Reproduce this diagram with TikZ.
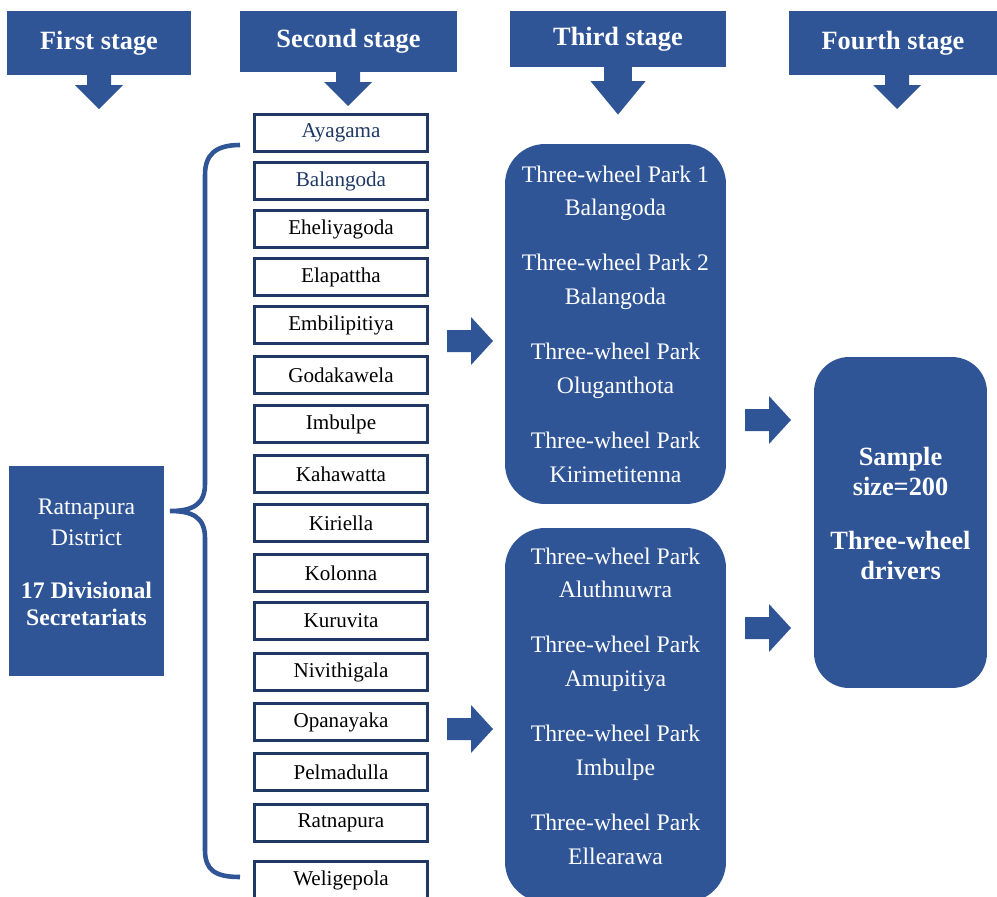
\documentclass[tikz,border=0pt]{standalone}
\usepackage{fontspec}
\setmainfont{Liberation Serif}
\usepackage{tikz}

\definecolor{stageblue}{RGB}{47,85,151}
\definecolor{boxnavy}{RGB}{31,56,100}

\tikzset{
  stagehead/.style={fill=stageblue, text=white, inner sep=0pt, font=\fontsize{15}{18}\selectfont\bfseries},
  dsbox/.style={draw=boxnavy, line width=2.2pt, fill=white, minimum width=3.46cm, minimum height=0.74cm, inner sep=0pt, font=\fontsize{12}{14}\selectfont},
  parkbox/.style={fill=stageblue, text=white, rounded corners=0.8cm, minimum width=4.42cm, align=center, font=\fontsize{13.5}{19.3}\selectfont},
  bluetext/.style={text=white, align=center, inner sep=0pt},
  brace/.style={draw=stageblue, line width=2.6pt},
  rarrow/.pic={\fill[stageblue] (0,-11) -- (24,-11) -- (24,-24) -- (46,0) -- (24,24) -- (24,11) -- (0,11) -- cycle;},
  darrow/.pic={\fill[stageblue] (-12,0) -- (-12,10) -- (-24,10) -- (0,34) -- (24,10) -- (12,10) -- (12,0) -- cycle;}
}

\begin{document}
\begin{tikzpicture}[x=0.02cm, y=-0.02cm]
  \useasboundingbox (0,0) rectangle (997,896);
  \clip (0,0) rectangle (997,896);

  % stage headers
  \node[stagehead, minimum width=3.68cm, minimum height=1.28cm] (h1) at (99,43) {First stage};
  \node[stagehead, minimum width=4.34cm, minimum height=1.22cm] (h2) at (348.5,41.5) {Second stage};
  \node[stagehead, minimum width=4.32cm, minimum height=1.12cm] (h3) at (618,39) {Third stage};
  \node[stagehead, minimum width=4.16cm, minimum height=1.28cm] (h4) at (893,43) {Fourth stage};

  \pic at (99,75) {darrow};
  \pic at (348,72) {darrow};
  \pic[xscale=1.15, yscale=1.4] at (618,67) {darrow};
  \pic at (897,75) {darrow};

  % first stage
  \node[fill=stageblue, minimum width=3.1cm, minimum height=4.2cm] (dist) at (86.5,571) {};
  \node[bluetext, font=\fontsize{13.5}{17.6}\selectfont] (distname) at (86.5,522.5) {Ratnapura\\District};
  \node[bluetext, font=\fontsize{13.5}{15.5}\selectfont\bfseries] (distcount) at (86.5,603.5) {17 Divisional\\Secretariats};

  \draw[brace] (240,145) .. controls (215,145) and (205,155) .. (205,175) -- (205,484)
    .. controls (205,505) and (192,511) .. (170,511)
    .. controls (192,511) and (205,517) .. (205,538) -- (205,850)
    .. controls (205,870) and (215,877) .. (240,877);

  % second stage
  \foreach \name/\y/\col [count=\i] in {Ayagama/133/boxnavy, Balangoda/181/boxnavy,
      Eheliyagoda/229/black, Elapattha/277/black, Embilipitiya/325/black,
      Godakawela/375/black, Imbulpe/424/black, Kahawatta/474/black,
      Kiriella/523/black, Kolonna/573/black, Kuruvita/621/black,
      Nivithigala/672/black, Opanayaka/722/black, Pelmadulla/772/black,
      Ratnapura/823/black, Weligepola/880/black}
    \node[dsbox, text=\col] (d\i) at (341,\y) {\name};

  \pic at (447,341) {rarrow};
  \pic at (447,729) {rarrow};

  % third stage
  \node[parkbox, minimum height=7.2cm] (park1) at (615.5,324)
    {Three-wheel Park 1\\Balangoda\\[11.9pt]Three-wheel Park 2\\Balangoda\\[11.9pt]Three-wheel Park\\Oluganthota\\[11.9pt]Three-wheel Park\\Kirimetitenna};
  \node[parkbox, minimum height=7.48cm] (park2) at (615.5,715) {};
  \node[bluetext, font=\fontsize{13.5}{19.3}\selectfont] (park2text) at (615.5,706)
    {Three-wheel Park\\Aluthnuwra\\[11.9pt]Three-wheel Park\\Amupitiya\\[11.9pt]Three-wheel Park\\Imbulpe\\[11.9pt]Three-wheel Park\\Ellearawa};

  \pic at (745,420) {rarrow};
  \pic at (745,628) {rarrow};

  % fourth stage
  \node[fill=stageblue, rounded corners=0.7cm, minimum width=3.46cm, minimum height=6.62cm] (sample) at (900.5,522.5) {};
  \node[bluetext, font=\fontsize{15}{17.6}\selectfont\bfseries] (samplesize) at (900.5,471.5) {Sample\\size=200};
  \node[bluetext, font=\fontsize{15}{17.6}\selectfont\bfseries] (drivers) at (900.5,555.5) {Three-wheel\\drivers};
\end{tikzpicture}
\end{document}
